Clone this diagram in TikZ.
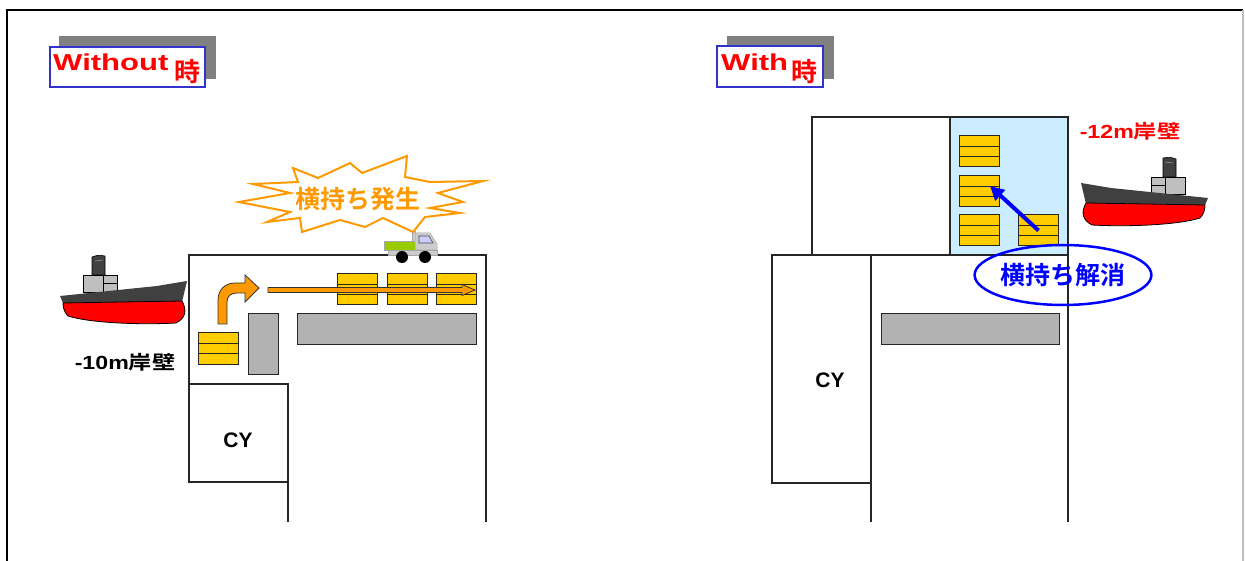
\documentclass[tikz,border=0pt]{standalone}
\usepackage{fontspec}
\usepackage{graphicx}
\setmainfont{Liberation Sans}
\newfontfamily\jp{Noto Sans CJK JP}[BoldFont={Noto Sans CJK JP Bold}]
\usetikzlibrary{arrows.meta}
\usetikzlibrary{calc}
\usetikzlibrary{shapes.geometric}

\definecolor{boxyellow}{HTML}{FFCC00}
\definecolor{flowrange}{HTML}{FF9900}
\definecolor{yardgray}{HTML}{B2B2B2}
\definecolor{apronblue}{HTML}{CCECFF}
\definecolor{titleblue}{HTML}{3333CC}
\definecolor{hullgray}{HTML}{404040}
\definecolor{truckgreen}{HTML}{99CC00}
\definecolor{cabglass}{HTML}{CCCCFF}

\tikzset{
  wall/.style={draw=black!85, line width=1.2},
  stack/.style={draw=black!85, fill=boxyellow, line width=1, minimum width=40, minimum height=31, inner sep=0,
    path picture={\foreach \k in {1/3,2/3}
      \draw[black!85, line width=1] ($(path picture bounding box.north west)!\k!(path picture bounding box.south west)$)
        -- ($(path picture bounding box.north east)!\k!(path picture bounding box.south east)$);}},
  yard/.style={draw=black!85, fill=yardgray, line width=1, inner sep=0},
  titlebox/.style={draw=titleblue, fill=white, line width=2.2, inner sep=0},
  titletext/.style={text=red, font=\fontsize{23}{26}\selectfont\bfseries, inner sep=0},
  quaytext/.style={font=\fontsize{19}{22}\selectfont\bfseries, inner sep=0},
  cytext/.style={font=\fontsize{21}{24}\selectfont\bfseries, inner sep=0},
  ship/.pic={
    \draw[fill=hullgray, line width=0.6] (32,20) -- (32,2) .. controls (38,0) .. (45,1) -- (45,20) -- cycle;
    \draw[black!40, line width=0.6] (35,6) -- (43,5);
    \draw[fill=black!25, line width=0.6] (23,20) rectangle (57,37);
    \draw[line width=0.6] (43,20) -- (43,37) (43,28) -- (57,28);
    \fill[hullgray] (0,41) -- (97,31) -- (127,26) -- (122,47) -- (3,48) -- cycle;
    \draw[fill=red, line width=0.8] (3,48) -- (122,46) .. controls (127,55) and (126,63) .. (116,68)
      .. controls (80,70) and (30,68) .. (8,61) .. controls (4,57) and (3,52) .. (3,48) -- cycle;
  }
}

\begin{document}
\begin{tikzpicture}[x=1pt,y=-1pt]
\useasboundingbox (0,0) rectangle (1245,561);
\draw[line width=2.4] (7,561) -- (7,10) -- (1243,10);
\draw[black!25, line width=1.5] (1243,10) -- (1243,561);

% titles
\fill[gray] (59,36) rectangle (216,79);
\node[titlebox, minimum width=155, minimum height=40] (tA) at (127.5,67) {};
\node[titletext, anchor=base west] (tAtxt) at (53,71)
  {\scalebox{1.35}[1]{Without}\hspace{6pt}\raisebox{-11pt}{\jp\fontsize{26}{28}\selectfont\bfseries 時}};
\fill[gray] (727,36) rectangle (834,79);
\node[titlebox, minimum width=106, minimum height=41] (tB) at (770,66.5) {};
\node[titletext, anchor=base west] (tBtxt) at (721,71)
  {\scalebox{1.35}[1]{With}\hspace{3pt}\raisebox{-11pt}{\jp\fontsize{26}{28}\selectfont\bfseries 時}};

%%%% without
\draw[wall] (189,384) -- (189,255) -- (486,255) -- (486,522);
\node[wall, minimum width=99, minimum height=98, inner sep=0, outer sep=0] (cyA) at (238.5,433) {};
\draw[wall] (cyA.south east) -- (288,522);
\node[cytext] (cyAtxt) at (238,440) {CY};

\node[yard, minimum width=30, minimum height=60] (rA) at (263,344) {};
\node[yard, minimum width=179, minimum height=30] (lA) at (386.5,329) {};

\node[stack] (a0) at (218.5,348.5) {};
\foreach \i/\x in {1/357,2/407,3/456}{\node[stack] (a\i) at (\x,289.5) {};}

% turn out of the yard, then along the quay
\draw[black!80, fill=flowrange, line width=0.8] (218,324) -- (218,300) .. controls (218,290) and (225,283) .. (235,283)
  -- (245,283) -- (245,275) -- (259,288) -- (245,302) -- (245,293) -- (237,293)
  .. controls (231,293) and (227,296) .. (227,302) -- (227,324) -- cycle;
\draw[black!80, fill=flowrange, line width=0.8] (268,287.5) -- (462,287.5) -- (462,284.5) -- (475,290)
  -- (462,295.5) -- (462,292.5) -- (268,292.5) -- cycle;

% truck
\draw[gray!70, fill=gray!40, line width=0.5] (412,231) rectangle (415,241);
\draw[gray!70, fill=truckgreen, line width=0.5] (384,241) rectangle (415,250);
\draw[gray!70, fill=gray!40, line width=0.5] (415,233) -- (430,233) -- (437,244) -- (437,250) -- (415,250) -- cycle;
\draw[black!70, fill=cabglass, line width=0.6] (419,236) -- (429,236) -- (433,243) -- (419,243) -- cycle;
\draw[gray!70, fill=gray!40, line width=0.5] (388,250) rectangle (437,255);
\fill (402,257) circle (6) (425,257) circle (6);

% burst
\draw[flowrange, fill=white, line width=2] (239,202) -- (290,193) -- (253,184) -- (298,182) -- (293,168)
  -- (318,178) -- (350,163) -- (362,173) -- (407,156) -- (405,177) -- (430,182) -- (483,181)
  -- (438,193) -- (463,202) -- (430,208) -- (460,213) -- (425,217) -- (413,232) -- (383,218)
  -- (365,227) -- (340,220) -- (302,232) -- (300,218) -- (267,222) -- (290,212) -- cycle;
\node[text=flowrange, font=\jp\fontsize{25}{28}\selectfont\bfseries, inner sep=0] (burst) at (358,199) {横持ち発生};

\pic at (60,255) {ship};
\node[quaytext] (qA) at (125,362) {\scalebox{1.22}[1]{-10m{\jp 岸壁}}};

%%%% with
\draw[wall] (812,117) rectangle (950,255);
\draw[wall, fill=apronblue] (950,117) rectangle (1068,255);
\draw[wall] (1068,255) -- (1068,522);
\draw[wall] (772,255) -- (1068,255);
\node[wall, minimum width=99, minimum height=228, inner sep=0, outer sep=0] (cyB) at (821.5,369) {};
\draw[wall] (cyB.south east) -- (871,522);
\node[cytext] (cyBtxt) at (830,380) {CY};
\node[yard, minimum width=178, minimum height=30] (lB) at (970,329) {};

\foreach \i/\y in {1/151.5,2/191.5,3/230.5}{\node[stack] (b\i) at (979,\y) {};}
\node[stack] (b4) at (1038.5,230.5) {};
\draw[blue, line width=4, -{Triangle[length=14pt,width=14pt]}] (b4.center) -- ($(b2.center)+(11,-5.5)$);

\node[draw=blue, ellipse, line width=2.5, minimum width=168, minimum height=60, inner sep=0,
  text=blue, font=\jp\fontsize{25}{28}\selectfont\bfseries] (fix) at (1063,275) {横持ち解消};

\pic[xscale=-1] at (1208,157) {ship};
\node[quaytext, text=red] (qB) at (1130,131) {\scalebox{1.22}[1]{-12m{\jp 岸壁}}};
\end{tikzpicture}
\end{document}
